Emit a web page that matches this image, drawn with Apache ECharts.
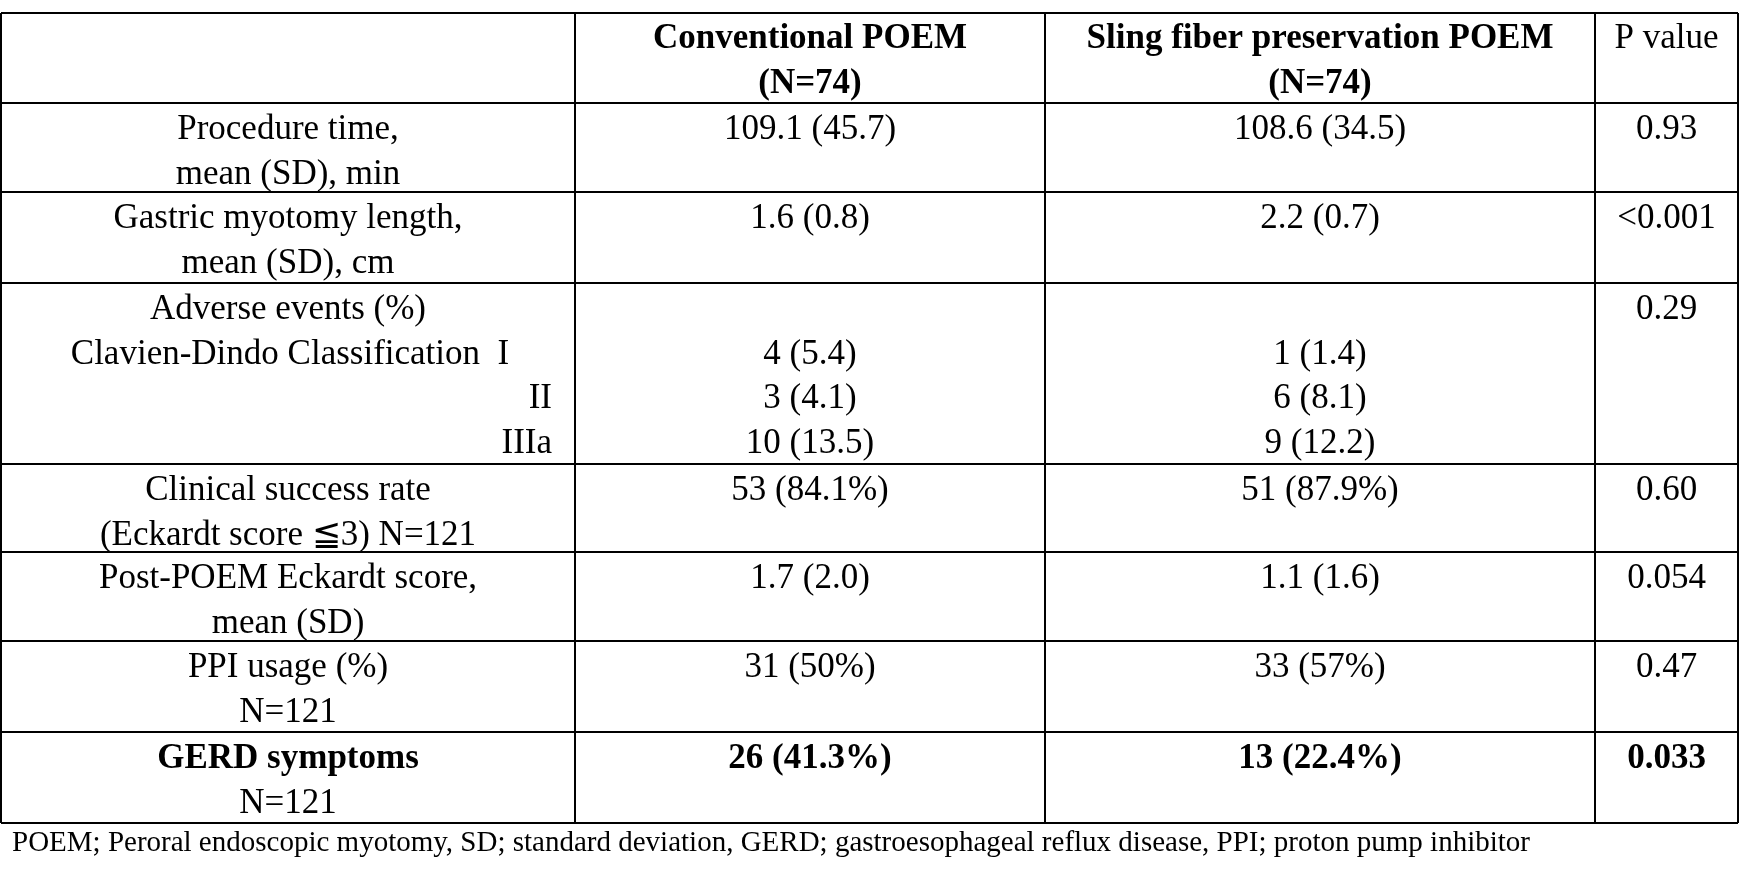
<!DOCTYPE html>
<html>
<head>
<meta charset="utf-8">
<script src="https://cdn.jsdelivr.net/npm/echarts@6/dist/echarts.min.js"></script>
<style>html,body{margin:0;padding:0;background:#fff}#main{width:1740px;height:875px}</style>
</head>
<body>
<div id="main"></div>
<script>
// table content
var headers = [[''], ['Conventional POEM', '(N=74)'], ['Sling fiber preservation POEM', '(N=74)'], ['P value']];
var rowLabels = [
  ['Procedure time,', 'mean (SD), min'],
  ['Gastric myotomy length,', 'mean (SD), cm'],
  ['Adverse events (%)', 'Clavien-Dindo Classification  I', 'II', 'IIIa'],
  ['Clinical success rate', '(Eckardt score \u22663) N=121'],
  ['Post-POEM Eckardt score,', 'mean (SD)'],
  ['PPI usage (%)', 'N=121'],
  ['GERD symptoms', 'N=121']
];
var conventional = [['109.1 (45.7)'], ['1.6 (0.8)'], ['', '4 (5.4)', '3 (4.1)', '10 (13.5)'], ['53 (84.1%)'], ['1.7 (2.0)'], ['31 (50%)'], ['26 (41.3%)']];
var sling = [['108.6 (34.5)'], ['2.2 (0.7)'], ['', '1 (1.4)', '6 (8.1)', '9 (12.2)'], ['51 (87.9%)'], ['1.1 (1.6)'], ['33 (57%)'], ['13 (22.4%)']];
var pValues = ['0.93', '<0.001', '0.29', '0.60', '0.054', '0.47', '0.033'];
var footnote = 'POEM; Peroral endoscopic myotomy, SD; standard deviation, GERD; gastroesophageal reflux disease, PPI; proton pump inhibitor';

var colX = [1, 575, 1045, 1595, 1738];
var rowY = [13, 103, 192, 283, 464, 552, 641, 732, 823];
var lineH = 44.5, fs = 35, font = '"Liberation Serif", "Times New Roman", serif';

var g = [];
function txt(s, x, y, align, bold, size) {
  g.push({type: 'text', x: x, y: y, style: {text: s, fill: '#000', font: (bold ? 'bold ' : '') + (size || fs) + 'px ' + font, textAlign: align, textVerticalAlign: 'middle'}});
}
rowY.forEach(function (y) {
  g.push({type: 'line', shape: {x1: colX[0], y1: y, x2: colX[4], y2: y}, style: {stroke: '#000', lineWidth: 2}});
});
colX.forEach(function (x) {
  g.push({type: 'line', shape: {x1: x, y1: rowY[0], x2: x, y2: rowY[8]}, style: {stroke: '#000', lineWidth: 2}});
});
function center(c) { return (colX[c] + colX[c + 1]) / 2; }
headers.forEach(function (h, c) {
  h.forEach(function (s, i) { txt(s, center(c), rowY[0] + 26 + i * lineH, 'center', c === 1 || c === 2); });
});
rowLabels.forEach(function (lines, r) {
  var bold = r === 6;
  lines.forEach(function (s, i) {
    var y = rowY[r + 1] + 27 + i * lineH;
    if (r === 2 && i >= 2) txt(s, 552, y, 'right', false);
    else if (r === 2 && i === 1) txt(s, 290, y, 'center', false);
    else txt(s, center(0), y, 'center', bold && i === 0);
  });
  conventional[r].forEach(function (s, i) { txt(s, center(1), rowY[r + 1] + 27 + i * lineH, 'center', bold); });
  sling[r].forEach(function (s, i) { txt(s, center(2), rowY[r + 1] + 27 + i * lineH, 'center', bold); });
  txt(pValues[r], center(3), rowY[r + 1] + 27, 'center', bold);
});
txt(footnote, 12, 843, 'left', false, 29);

var chart = echarts.init(document.getElementById('main'));
chart.setOption({backgroundColor: '#fff', animation: false, graphic: g});
</script>
</body>
</html>
